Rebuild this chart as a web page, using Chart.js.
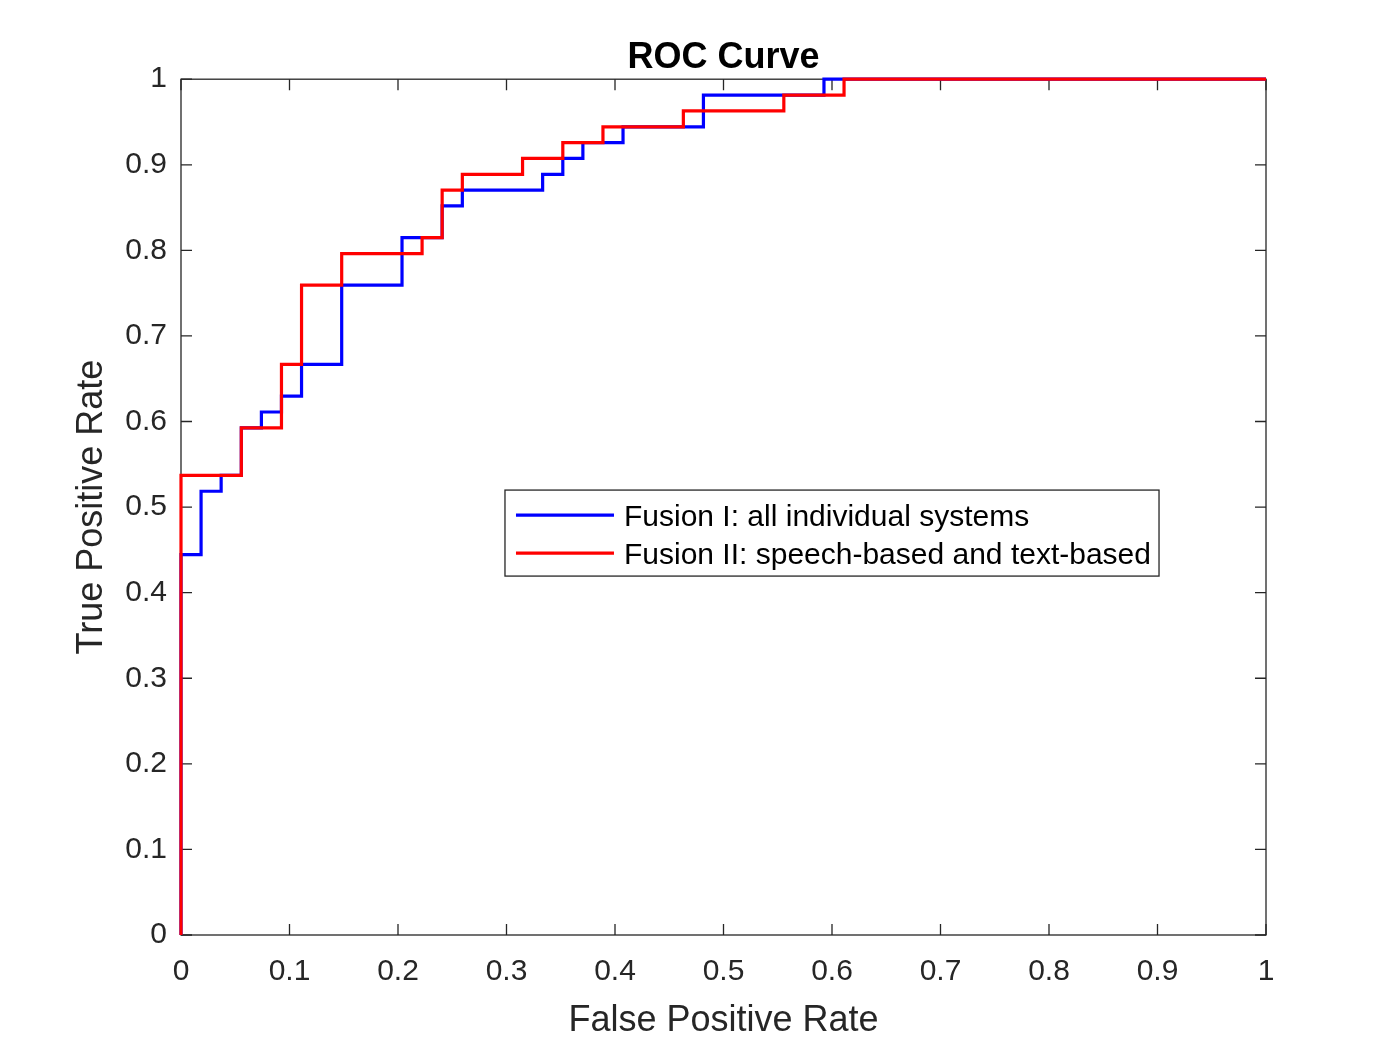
<!DOCTYPE html>
<html>
<head>
<meta charset="utf-8">
<title>ROC Curve</title>
<script src="https://cdn.jsdelivr.net/npm/chart.js@4.4.1/dist/chart.umd.min.js"></script>
<style>
  html, body { margin: 0; padding: 0; background: #fff; }
  #wrap { width: 1400px; height: 1050px; }
</style>
</head>
<body>
<div id="wrap"><canvas id="roc" width="1400" height="1050"></canvas></div>
<script>
"use strict";

// ROC operating points
var fusion1Fpr = [0, 0, 0.0185, 0.0185, 0.037, 0.037, 0.0556, 0.0556, 0.0741, 0.0741, 0.0926, 0.0926,
    0.1111, 0.1111, 0.1481, 0.1481, 0.2037, 0.2037, 0.2407, 0.2407, 0.2593, 0.2593, 0.3333, 0.3333,
    0.3519, 0.3519, 0.3704, 0.3704, 0.4074, 0.4074, 0.4815, 0.4815, 0.5926, 0.5926, 1];
var fusion1Tpr = [0, 0.4444, 0.4444, 0.5185, 0.5185, 0.537, 0.537, 0.5926, 0.5926, 0.6111, 0.6111, 0.6296,
    0.6296, 0.6667, 0.6667, 0.7593, 0.7593, 0.8148, 0.8148, 0.8519, 0.8519, 0.8704, 0.8704, 0.8889,
    0.8889, 0.9074, 0.9074, 0.9259, 0.9259, 0.9444, 0.9444, 0.9815, 0.9815, 1, 1];

var fusion2Fpr = [0, 0, 0.0556, 0.0556, 0.0926, 0.0926, 0.1111, 0.1111, 0.1481, 0.1481, 0.2222, 0.2222,
    0.2407, 0.2407, 0.2593, 0.2593, 0.3148, 0.3148, 0.3519, 0.3519, 0.3889, 0.3889, 0.463, 0.463,
    0.5556, 0.5556, 0.6111, 0.6111, 1];
var fusion2Tpr = [0, 0.537, 0.537, 0.5926, 0.5926, 0.6667, 0.6667, 0.7593, 0.7593, 0.7963, 0.7963, 0.8148,
    0.8148, 0.8704, 0.8704, 0.8889, 0.8889, 0.9074, 0.9074, 0.9259, 0.9259, 0.9444, 0.9444, 0.963,
    0.963, 0.9815, 0.9815, 1, 1];

var seriesNames = ["Fusion I: all individual systems", "Fusion II: speech-based and text-based"];
var seriesColors = ["#0000ff", "#ff0000"];
var tickStep = 0.1;

var axisColor = "#262626";
var fontFamily = "'Liberation Sans', Arial, Helvetica, sans-serif";

function toPoints(xs, ys) {
    var pts = [];
    for (var i = 0; i < xs.length; i++) {
        pts.push({ x: xs[i], y: ys[i] });
    }
    return pts;
}

// MATLAB prints 0, 0.1 ... 1 (no trailing zero)
function tickLabel(value) {
    return String(Math.round(value * 10) / 10);
}

// MATLAB-style box with inward ticks on all four sides, drawn under the data
var boxPlugin = {
    id: "matlabBox",
    beforeDatasetsDraw: function (chart) {
        var ctx = chart.ctx;
        var a = chart.chartArea;
        var xs = chart.scales.x;
        var ys = chart.scales.y;
        var len = 11;
        ctx.save();
        ctx.strokeStyle = axisColor;
        ctx.lineWidth = 1.3;
        ctx.strokeRect(a.left, a.top, a.right - a.left, a.bottom - a.top);
        ctx.beginPath();
        xs.ticks.forEach(function (t) {
            var px = xs.getPixelForValue(t.value);
            ctx.moveTo(px, a.bottom); ctx.lineTo(px, a.bottom - len);
            ctx.moveTo(px, a.top); ctx.lineTo(px, a.top + len);
        });
        ys.ticks.forEach(function (t) {
            var py = ys.getPixelForValue(t.value);
            ctx.moveTo(a.left, py); ctx.lineTo(a.left + len, py);
            ctx.moveTo(a.right, py); ctx.lineTo(a.right - len, py);
        });
        ctx.stroke();
        ctx.restore();
    }
};

// legend box placed inside the axes like MATLAB's
var legendPlugin = {
    id: "insideLegend",
    afterDatasetsDraw: function (chart) {
        var ctx = chart.ctx;
        var a = chart.chartArea;
        var w = a.right - a.left;
        var h = a.bottom - a.top;
        var left = a.left + w * 0.2986;
        var right = a.left + w * 0.9014;
        var top = a.top + h * 0.4801;
        var bottom = a.top + h * 0.5806;
        ctx.save();
        ctx.fillStyle = "#fff";
        ctx.fillRect(left, top, right - left, bottom - top);
        ctx.strokeStyle = axisColor;
        ctx.lineWidth = 1.3;
        ctx.strokeRect(left, top, right - left, bottom - top);
        ctx.font = "30px " + fontFamily;
        ctx.textBaseline = "middle";
        ctx.textAlign = "left";
        var rows = [top + 25, top + 63];
        chart.data.datasets.forEach(function (ds, i) {
            ctx.strokeStyle = ds.borderColor;
            ctx.lineWidth = 3.2;
            ctx.beginPath();
            ctx.moveTo(left + 11, rows[i]);
            ctx.lineTo(left + 109, rows[i]);
            ctx.stroke();
            ctx.fillStyle = "#000";
            ctx.fillText(ds.label, left + 119, rows[i] + 3);
        });
        ctx.restore();
    }
};

var ctx = document.getElementById("roc").getContext("2d");
var chart = new Chart(ctx, {
    type: "line",
    data: {
        datasets: [{
            label: seriesNames[0],
            data: toPoints(fusion1Fpr, fusion1Tpr),
            borderColor: seriesColors[0],
            borderWidth: 3.2,
            pointRadius: 0,
            tension: 0,
            fill: false,
            clip: false,
            order: 2
        }, {
            label: seriesNames[1],
            data: toPoints(fusion2Fpr, fusion2Tpr),
            borderColor: seriesColors[1],
            borderWidth: 3.2,
            pointRadius: 0,
            tension: 0,
            fill: false,
            clip: false,
            order: 1
        }]
    },
    options: {
        responsive: false,
        animation: false,
        devicePixelRatio: 1,
        layout: { padding: { left: 0, right: 134, top: 0, bottom: 0 } },
        plugins: {
            legend: { display: false },
            tooltip: { enabled: false },
            title: {
                display: true,
                text: "ROC Curve",
                fullSize: false,
                color: "#000",
                font: { family: fontFamily, size: 36, weight: "bold", lineHeight: 1.2 },
                padding: { top: 36, bottom: 0 }
            }
        },
        scales: {
            x: {
                type: "linear",
                min: 0,
                max: 1,
                grid: { display: false, drawTicks: false },
                border: { display: false },
                ticks: {
                    stepSize: tickStep,
                    color: axisColor,
                    padding: 19,
                    maxRotation: 0,
                    font: { family: fontFamily, size: 30 },
                    callback: tickLabel
                },
                title: {
                    display: true,
                    text: "False Positive Rate",
                    color: axisColor,
                    font: { family: fontFamily, size: 36, lineHeight: 1.2 },
                    padding: { top: 0, bottom: 7 }
                },
                afterFit: function (scale) { scale.height = 115; }
            },
            y: {
                type: "linear",
                min: 0,
                max: 1,
                grid: { display: false, drawTicks: false },
                border: { display: false },
                ticks: {
                    stepSize: tickStep,
                    color: axisColor,
                    padding: 14,
                    font: { family: fontFamily, size: 30 },
                    callback: tickLabel
                },
                title: {
                    display: true,
                    text: "True Positive Rate",
                    color: axisColor,
                    font: { family: fontFamily, size: 36, lineHeight: 1.2 },
                    padding: { top: 70, bottom: 0 }
                },
                afterFit: function (scale) { scale.width = 181; }
            }
        }
    },
    plugins: [boxPlugin, legendPlugin]
});
</script>
</body>
</html>
